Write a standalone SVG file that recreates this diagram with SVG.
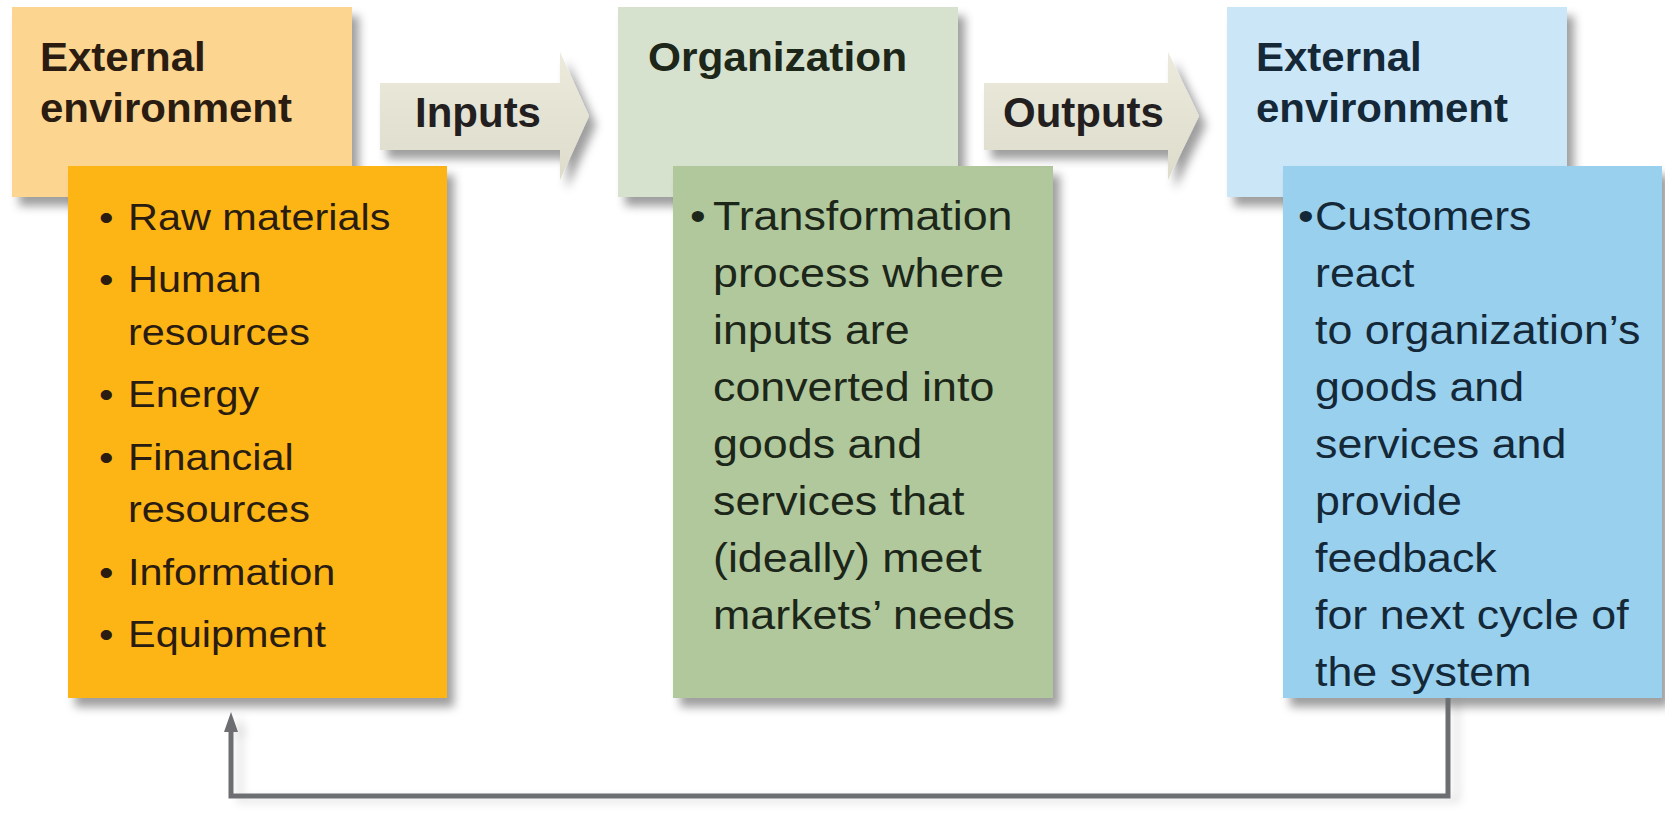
<svg xmlns="http://www.w3.org/2000/svg" width="1665" height="829" viewBox="0 0 1665 829">
<defs>
<filter id="shadow" x="-10%" y="-10%" width="130%" height="130%">
<feDropShadow dx="7" dy="9" stdDeviation="5" flood-color="#000" flood-opacity="0.38"/>
</filter>
<filter id="lineShadow" x="-50%" y="-10%" width="200%" height="130%">
<feDropShadow dx="9" dy="4" stdDeviation="4" flood-color="#000" flood-opacity="0.12"/>
</filter>
<linearGradient id="arrowFill" x1="0" y1="0" x2="0" y2="1">
<stop offset="0" stop-color="#ebeadc"/>
<stop offset="1" stop-color="#dedccb"/>
</linearGradient>
<marker id="head" viewBox="0 0 20 14" markerWidth="20" markerHeight="14" refX="0" refY="7" orient="auto" markerUnits="userSpaceOnUse">
<path d="M0,0 L20,7 L0,14 z" fill="#6d6e71"/>
</marker>
</defs>
<style>
text{font-family:"Liberation Sans",Arial,Helvetica,sans-serif}
.title{font-weight:bold;font-size:40px}
.body{font-size:37px}
.bodyL{font-size:40px}
.label{font-weight:bold;font-size:42px;fill:#231f20}
.t1{fill:#2a1c10}
.t2{fill:#1c2619}
.t3{fill:#142838}
.box{filter:url(#shadow)}
.arrow{fill:url(#arrowFill);filter:url(#shadow)}
.feedback{fill:none;stroke:#6d6e71;stroke-width:5;filter:url(#lineShadow)}
</style>
<rect width="1665" height="829" fill="#ffffff"/>

<g id="node-external-input">
<rect class="box" x="12" y="7" width="340" height="190" fill="#fcd590"/>
<text class="title t1" transform="translate(40,0) scale(1.05,1)"><tspan x="0" y="71">External</tspan><tspan x="0" y="122">environment</tspan></text>
<rect class="box" x="68" y="166" width="379" height="532" fill="#fdb515"/>
<text class="body t1" transform="translate(99,0) scale(1.12,1)"><tspan x="0" y="230">•</tspan><tspan x="0" y="292.5">•</tspan><tspan x="0" y="407.5">•</tspan><tspan x="0" y="470">•</tspan><tspan x="0" y="585">•</tspan><tspan x="0" y="647.5">•</tspan></text>
<text class="body t1" transform="translate(128,0) scale(1.12,1)"><tspan x="0" y="230">Raw materials</tspan><tspan x="0" y="292.5">Human</tspan><tspan x="0" y="345">resources</tspan><tspan x="0" y="407.5">Energy</tspan><tspan x="0" y="470">Financial</tspan><tspan x="0" y="522.5">resources</tspan><tspan x="0" y="585">Information</tspan><tspan x="0" y="647.5">Equipment</tspan></text>
</g>

<g id="node-organization">
<rect class="box" x="618" y="7" width="340" height="190" fill="#d6e2cd"/>
<text class="title t2" transform="translate(648,0) scale(1.06,1)"><tspan x="0" y="71">Organization</tspan></text>
<rect class="box" x="673" y="166" width="380" height="532" fill="#b0c89c"/>
<text class="bodyL t2" transform="translate(690,0) scale(1.12,1)"><tspan x="0" y="230">•</tspan></text>
<text class="bodyL t2" transform="translate(713,0) scale(1.12,1)"><tspan x="0" y="230">Transformation</tspan><tspan x="0" y="287">process where</tspan><tspan x="0" y="344">inputs are</tspan><tspan x="0" y="401">converted into</tspan><tspan x="0" y="458">goods and</tspan><tspan x="0" y="515">services that</tspan><tspan x="0" y="572">(ideally) meet</tspan><tspan x="0" y="629">markets’ needs</tspan></text>
</g>

<g id="node-external-output">
<rect class="box" x="1227" y="7" width="340" height="190" fill="#cbe6f6"/>
<text class="title t3" transform="translate(1256,0) scale(1.05,1)"><tspan x="0" y="71">External</tspan><tspan x="0" y="122">environment</tspan></text>
<rect class="box" x="1283" y="166" width="379" height="532" fill="#98d0ee"/>
<text class="bodyL t3" transform="translate(1298,0) scale(1.12,1)"><tspan x="0" y="230">•</tspan></text>
<text class="bodyL t3" transform="translate(1315,0) scale(1.12,1)"><tspan x="0" y="230">Customers</tspan><tspan x="0" y="287">react</tspan><tspan x="0" y="344">to organization’s</tspan><tspan x="0" y="401">goods and</tspan><tspan x="0" y="458">services and</tspan><tspan x="0" y="515">provide</tspan><tspan x="0" y="572">feedback</tspan><tspan x="0" y="629">for next cycle of</tspan><tspan x="0" y="686">the system</tspan></text>
</g>

<g id="connectors">
<g id="edge-inputs">
<polygon class="arrow" points="380,83 560,83 560,52 589,116 560,180 560,150 380,150"/>
<text class="label" x="415" y="127">Inputs</text>
</g>
<g id="edge-outputs">
<polygon class="arrow" points="984,83 1168,83 1168,52 1199,116 1168,180 1168,150 984,150"/>
<text class="label" x="1003" y="127">Outputs</text>
</g>
<path id="edge-feedback" class="feedback" d="M1448,698 V796 H231 V732" marker-end="url(#head)"/>
</g>
</svg>
